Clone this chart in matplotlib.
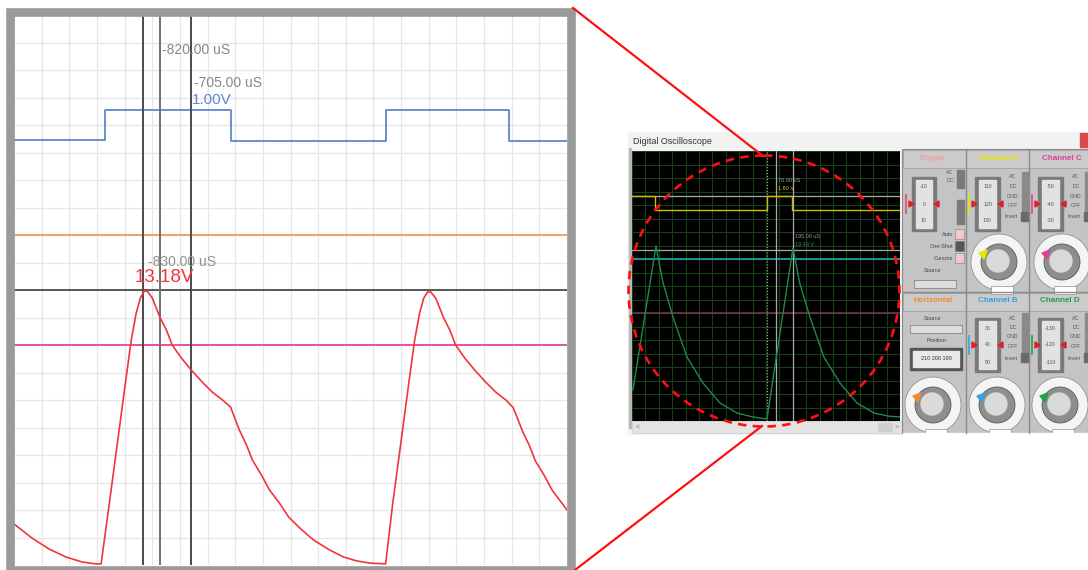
import numpy as np
import matplotlib
matplotlib.use("Agg")
import matplotlib.pyplot as plt
from matplotlib.patches import Rectangle, Ellipse, Circle, Polygon

plt.rcParams['font.family'] = ['Liberation Sans', 'DejaVu Sans']

# ---- left chart data (units: grid divisions, 20 x 20) ----
red_x = [0.00, 0.65, 1.27, 1.88, 2.46, 2.97, 3.15, 3.44, 3.73, 4.02, 4.24, 4.42, 4.57,
         4.71, 4.82, 5.00, 5.29, 5.51, 5.72, 6.05, 6.41, 6.81, 7.17, 7.54, 7.83, 7.97,
         8.15, 8.41, 8.62, 8.95, 9.24, 9.60, 9.93, 10.33, 10.83, 11.41, 11.92, 12.39,
         12.86, 13.44,
         13.69, 13.98, 14.27, 14.49, 14.67, 14.82, 14.96, 15.07, 15.25, 15.54, 15.76,
         15.97, 16.30, 16.66, 17.06, 17.42, 17.79, 18.05, 18.20, 18.38, 18.64, 18.85,
         19.18, 19.47, 19.83, 20.00]
red_y = [1.49, 0.98, 0.58, 0.29, 0.11, 0.04, 0.04, 2.18, 4.36, 6.55, 8.18, 9.16, 9.71,
         9.96, 9.96, 9.71, 8.98, 8.55, 8.00, 7.53, 7.09, 6.65, 6.29, 6.00, 5.75, 5.38,
         4.91, 4.36, 3.82, 3.27, 2.73, 2.25, 1.75, 1.35, 0.91, 0.55, 0.29, 0.15,
         0.07, 0.04,
         2.18, 4.36, 6.55, 8.18, 9.16, 9.71, 9.93, 9.93, 9.71, 8.98, 8.55,
         8.00, 7.53, 7.09, 6.65, 6.29, 6.00, 5.73, 5.36, 4.89, 4.34, 3.80,
         3.25, 2.71, 2.23, 2.00]
blue_x = [0, 3.28, 3.28, 7.86, 7.86, 13.44, 13.44, 17.92, 17.92, 20]
blue_y = [15.45, 15.45, 16.55, 16.55, 15.42, 15.42, 16.55, 16.55, 15.42, 15.42]
orange_level = 12.0
magenta_level = 8.0
cursor_h = 10.0
cursor_v = [4.67, 5.29, 6.41]
cursor_v_colors = ['#4a4a4a', '#707070', '#4a4a4a']

# ---- scope screen data (units: grid divisions, 20 x 20) ----
green_x = [0.07, 1.79, 2.30, 3.06, 4.10, 5.30, 6.57, 7.84, 9.00, 10.07, 12.01, 12.52,
           13.28, 14.32, 15.52, 16.79, 18.06, 19.20, 20.0]
green_y = [2.30, 12.96, 10.30, 7.70, 4.74, 2.81, 1.33, 0.59, 0.30, 0.15, 12.81, 10.20,
           7.70, 4.74, 2.81, 1.33, 0.59, 0.35, 0.30]
yellow_x = [0, 1.72, 1.72, 10.07, 10.07, 11.94, 11.94, 20]
yellow_y = [16.67, 16.67, 15.63, 15.63, 16.67, 16.67, 15.63, 15.63]

W, H = 1088, 570
fig = plt.figure(figsize=(W / 100, H / 100), dpi=100)
fig.patch.set_facecolor('white')


def fx(px, py, pw, ph):
    return [px / W, 1 - (py + ph) / H, pw / W, ph / H]


# background overlay (pixel coords)
bg = fig.add_axes([0, 0, 1, 1], zorder=0)
bg.set_xlim(0, W)
bg.set_ylim(H, 0)
bg.axis('off')

# oscilloscope window
bg.add_patch(Rectangle((628, 132), 460, 302, color='#f2f2f2'))
bg.text(633, 141, 'Digital Oscilloscope', fontsize=6.5, color='#333333', va='center')
bg.add_patch(Rectangle((629, 148), 2, 280, color='#b8b8b8'))
bg.add_patch(Rectangle((1080, 133), 8, 14, color='#d84a4a'))
# scrollbar
bg.add_patch(Rectangle((632, 421), 270, 12, color='#e4e4e4', ec='#c8c8c8', lw=0.5))
bg.add_patch(Rectangle((878, 423), 14, 8, color='#cfcfcf'))
bg.text(636, 427, '<', fontsize=5, color='#777777', va='center')
bg.text(895, 427, '>', fontsize=5, color='#777777', va='center')

# control panel
bg.add_patch(Rectangle((902, 149), 186, 284, color='#c4c4c4', ec='#8a8a8a', lw=0.8))
for cx in [966, 1029]:
    bg.plot([cx, cx], [149, 433], color='#8a8a8a', lw=1.0)
bg.plot([902, 1088], [292, 292], color='#8a8a8a', lw=1.0)
for hy in [149, 292]:
    bg.add_patch(Rectangle((903, hy + 1), 185, 18, color='#cbcbcb', ec='#9a9a9a', lw=0.5))

headers = [('Trigger', 933, 159, '#f2a0a8'), ('Channel A', 998, 159, '#e8e800'),
           ('Channel C', 1062, 159, '#e0409a'), ('Horizontal', 933, 301, '#f08a30'),
           ('Channel B', 998, 301, '#3aa0e0'), ('Channel D', 1060, 301, '#24a040')]
for txt, x, y, c in headers:
    bg.text(x, y, txt, fontsize=5.8, fontweight='bold', color=c, ha='center', va='center')

# position sliders
sliders = [(912, 177, 24, 54, ['-10', '0', '10'], '#e05070'),
           (975, 177, 25, 54, ['110', '120', '130'], '#e8e800'),
           (1038, 177, 25, 54, ['-50', '-40', '-30'], '#e0409a'),
           (975, 318, 25, 54, ['30', '40', '50'], '#3aa0e0'),
           (1038, 318, 25, 54, ['-130', '-120', '-110'], '#24a040')]
for sx, sy, sw, sh, labs, c in sliders:
    bg.add_patch(Rectangle((sx, sy), sw, sh, color='#7a7a7a'))
    bg.add_patch(Rectangle((sx + 4, sy + 3), sw - 8, sh - 6, color='#e2e2e2'))
    for k, lab in enumerate(labs):
        bg.text(sx + sw / 2, sy + 10 + k * 17, lab, fontsize=3.8, color='#555555',
                ha='center', va='center')
    bg.add_patch(Polygon([[sx - 3, sy + 24], [sx + 2, sy + 27], [sx - 3, sy + 30]], color='#e02020'))
    bg.add_patch(Polygon([[sx + sw + 3, sy + 24], [sx + sw - 2, sy + 27], [sx + sw + 3, sy + 30]],
                         color='#e02020'))
    bg.plot([sx - 6, sx - 6], [sy + 18, sy + 36], color=c, lw=1.2)

for ytop in [177, 318]:
    for x0 in [1003, 1066]:
        for k, lab in enumerate(['AC', 'DC', 'GND', 'OFF']):
            bg.text(x0 + 10, ytop + k * 9.5, lab, fontsize=3.8, color='#555555',
                    ha='center', va='center')
        bg.add_patch(Rectangle((x0 + 19, ytop - 5), 6, 42, color='#8a8a8a'))
        bg.text(x0 + 8, ytop + 40, 'Invert', fontsize=3.8, color='#555555',
                ha='center', va='center')
        bg.add_patch(Rectangle((x0 + 18, ytop + 35), 8, 9, color='#6a6a6a'))
bg.text(950, 172, 'AC', fontsize=3.8, color='#555555', ha='center', va='center')
bg.text(950, 181, 'DC', fontsize=3.8, color='#555555', ha='center', va='center')
bg.add_patch(Rectangle((957, 170), 7, 18, color='#7a7a7a'))
bg.add_patch(Rectangle((957, 200), 7, 24, color='#7a7a7a'))
for lab, y, c in [('Auto', 234, '#f4c8c8'), ('One-Shot', 246, '#555555'), ('Cursors', 258, '#f4c8c8')]:
    bg.text(953, y, lab, fontsize=4, color='#444444', ha='right', va='center')
    bg.add_patch(Rectangle((955, y - 5), 9, 10, color=c, ec='#777777', lw=0.4))
bg.text(933, 270, 'Source', fontsize=4, color='#444444', ha='center', va='center')
bg.add_patch(Rectangle((914, 280), 42, 8, color='#dddddd', ec='#777777', lw=0.5))
bg.text(933, 318, 'Source', fontsize=4, color='#444444', ha='center', va='center')
bg.add_patch(Rectangle((910, 325), 52, 8, color='#dddddd', ec='#777777', lw=0.5))
bg.text(936, 341, 'Position', fontsize=4, color='#444444', ha='center', va='center')
bg.add_patch(Rectangle((910, 348), 52, 22, color='#555555'))
bg.add_patch(Rectangle((913, 351), 46, 16, color='#e8e8e8'))
bg.text(936, 359, '210 200 190', fontsize=4, color='#333333', ha='center', va='center')

# knobs
knobs = [(999, 262, '#e8e800'), (1062, 262, '#e0409a'), (933, 405, '#f08a30'),
         (997, 405, '#3aa0e0'), (1060, 405, '#24a040')]
for kx, ky, c in knobs:
    bg.add_patch(Circle((kx, ky), 28, color='#f4f4f4', ec='#888888', lw=0.5))
    bg.add_patch(Circle((kx, ky), 18, color='#8e8e8e', ec='#5a5a5a', lw=0.6))
    bg.add_patch(Circle((kx - 1, ky - 1), 11, color='#dadada'))
    bg.add_patch(Polygon([[kx - 20, ky - 9], [kx - 12, ky - 12], [kx - 15, ky - 3]], color=c))
    bg.add_patch(Rectangle((kx - 8, ky + 24), 22, 8, color='white', ec='#777777', lw=0.4))
# cover cell overflow
bg.add_patch(Rectangle((903, 433), 185, 140, color='white'))

# ---- scope screen ----
sc = fig.add_axes(fx(632, 151, 268, 270), zorder=1)
sc.set_facecolor('black')
sc.set_xlim(0, 20)
sc.set_ylim(0, 20)
sc.set_xticks(np.arange(0, 21, 1))
sc.set_yticks(np.arange(0, 21, 1))
sc.grid(True, color='#173e17', lw=0.8)
sc.tick_params(length=0, labelbottom=False, labelleft=False)
for s in sc.spines.values():
    s.set_visible(False)
sc.axhline(16.67, color='#a8a8a8', lw=0.9)
sc.axhline(12.67, color='#a8a8a8', lw=0.9)
sc.axhline(12.0, color='#1fb4c4', lw=1.1)
sc.axhline(8.0, color='#7a3656', lw=1.1)
sc.axvline(10.07, color='#a8a8a8', lw=0.8, ls=':')
sc.axvline(10.75, color='#a8a8a8', lw=0.9)
sc.axvline(12.01, color='#a8a8a8', lw=0.9)
sc.plot(yellow_x, yellow_y, color='#c8c000', lw=1.0)
sc.plot(green_x, green_y, color='#1f8a4a', lw=1.0)
sc.text(10.9, 17.8, '70.00 uS', fontsize=4, color='#9a9a9a', va='center')
sc.text(10.9, 17.2, '1.60 V', fontsize=4, color='#d8d000', va='center')
sc.text(12.16, 13.7, '195.00 uS', fontsize=4, color='#9a9a9a', va='center')
sc.text(12.16, 13.05, '19.43 V', fontsize=4, color='#1f9a4a', va='center')

# ---- left chart ----
ax = fig.add_axes(fx(14, 15, 553, 550), zorder=1)
ax.set_xlim(0, 20)
ax.set_ylim(0, 20)
ax.set_xticks(np.arange(0, 21, 1))
ax.set_yticks(np.arange(0, 21, 1))
ax.grid(True, color='#e6e6e6', lw=0.9)
ax.tick_params(length=0, labelbottom=False, labelleft=False)
for s in ax.spines.values():
    s.set_visible(False)

ax.plot(blue_x, blue_y, color='#5f86cc', lw=1.3)
ax.axhline(orange_level, color='#f29a58', lw=1.3)
ax.axhline(magenta_level, color='#e8449a', lw=1.3)
ax.axhline(cursor_h, color='#4a4a4a', lw=1.3)
for xv, c in zip(cursor_v, cursor_v_colors):
    ax.axvline(xv, color=c, lw=1.4)
ax.plot(red_x, red_y, color='#f0353d', lw=1.2, solid_joinstyle='round')

ax.text(5.36, 18.73, '-820.00 uS', fontsize=10, color='#888888', va='center')
ax.text(6.52, 17.53, '-705.00 uS', fontsize=10, color='#888888', va='center')
ax.text(6.45, 16.90, '1.00V', fontsize=11, color='#5f86cc', va='center')
ax.text(4.85, 11.0, '-830.00 uS', fontsize=10, color='#8f8f8f', va='center')
ax.text(4.38, 10.44, '13.18V', fontsize=13.5, color='#f0353d', va='center')

# ---- top overlay: frame, zoom lines, circle ----
ov = fig.add_axes([0, 0, 1, 1], zorder=5)
ov.set_xlim(0, W)
ov.set_ylim(H, 0)
ov.axis('off')
ov.patch.set_alpha(0)
ov.add_patch(Rectangle((10, 11.5), 561, 558, fill=False, ec='#9a9a9a', lw=6.2))
ov.plot([573, 763], [8, 156], color='#ff1010', lw=1.6)
ov.plot([575, 762], [570, 426], color='#ff1010', lw=1.6)
ov.add_patch(Ellipse((764, 291), 271, 271, fill=False, ec='#ff1010', lw=1.9,
                     ls=(0, (3.2, 2.4))))

fig.savefig('out.png', dpi=100)
